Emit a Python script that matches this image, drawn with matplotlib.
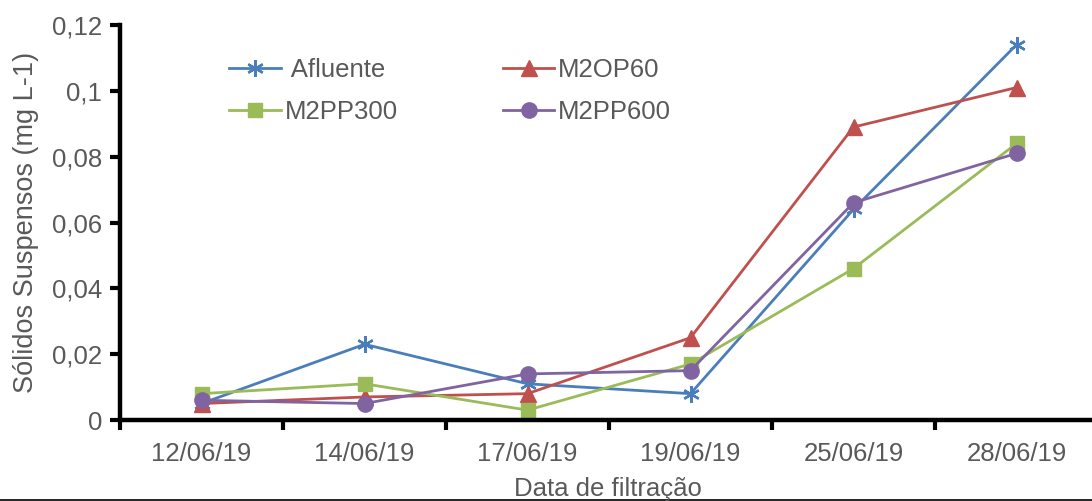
import matplotlib
matplotlib.use("Agg")
import matplotlib.pyplot as plt
from matplotlib.lines import Line2D

plt.rcParams['font.family'] = ['Liberation Sans', 'DejaVu Sans']

dates = ["12/06/19", "14/06/19", "17/06/19", "19/06/19", "25/06/19", "28/06/19"]
afluente = [0.005, 0.023, 0.011, 0.008, 0.064, 0.114]
m2op60 = [0.005, 0.007, 0.008, 0.025, 0.089, 0.101]
m2pp300 = [0.008, 0.011, 0.003, 0.017, 0.046, 0.084]
m2pp600 = [0.006, 0.005, 0.014, 0.015, 0.066, 0.081]
yticks = [0, 0.02, 0.04, 0.06, 0.08, 0.1, 0.12]
ytick_labels = ["0", "0,02", "0,04", "0,06", "0,08", "0,1", "0,12"]

gray = "#595959"
fs = 18.5
fig = plt.figure(figsize=(10.92, 5.01), dpi=100)
ax = fig.add_axes([120/1092, 81/501, 978/1092, 395/501])

x = list(range(len(dates)))
lw = 2.0
ax.plot(x, afluente, color="#4A7EBB", lw=lw, marker=(6, 2, 0), ms=12, mew=1.7, label=" Afluente")
ax.plot(x, m2op60, color="#C0504D", lw=lw, marker="^", ms=11, label="M2OP60")
ax.plot(x, m2pp300, color="#9BBB59", lw=lw, marker="s", ms=10, label="M2PP300")
ax.plot(x, m2pp600, color="#8064A2", lw=lw, marker="o", ms=11, label="M2PP600")

ax.set_xlim(-0.5, 5.5)
ax.set_ylim(0, 0.12)
ax.set_yticks(yticks)
ax.set_yticklabels(ytick_labels)
ax.set_xticks(x)
ax.set_xticklabels(dates)
ax.set_xticks([i - 0.5 for i in x], minor=True)
ax.tick_params(axis='x', which='major', length=0, pad=16, labelsize=fs, labelcolor=gray)
ax.tick_params(axis='x', which='minor', length=7, width=3, direction='out', color='black')
ax.tick_params(axis='y', length=7, width=3, direction='out', pad=6, labelsize=fs, labelcolor=gray)
for s in ['top', 'right']:
    ax.spines[s].set_visible(False)
for s in ['left', 'bottom']:
    ax.spines[s].set_linewidth(3.2)
    ax.spines[s].set_color('black')
ax.spines['left'].set_capstyle('projecting')

ax.set_ylabel("Sólidos Suspensos (mg L-1)", fontsize=19.5, color=gray, labelpad=9)
fig.text(608/1092, 1 - 489/501, "Data de filtração", fontsize=fs, color=gray, ha='center', va='center')

handles, labels = ax.get_legend_handles_labels()
order = [0, 2, 1, 3]
leg = ax.legend([handles[i] for i in order], [labels[i] for i in order], ncol=2, frameon=False,
                fontsize=fs, labelcolor=gray, handlelength=2.0, handletextpad=0.15,
                columnspacing=4.1, borderaxespad=0, loc='upper left',
                bbox_to_anchor=(219/1092, 1 - 48/501), bbox_transform=fig.transFigure,
                labelspacing=0.68)

fig.add_artist(Line2D([0, 1], [1.5/501, 1.5/501], color='black', lw=1.2, transform=fig.transFigure))

fig.savefig("out.png", dpi=100)
